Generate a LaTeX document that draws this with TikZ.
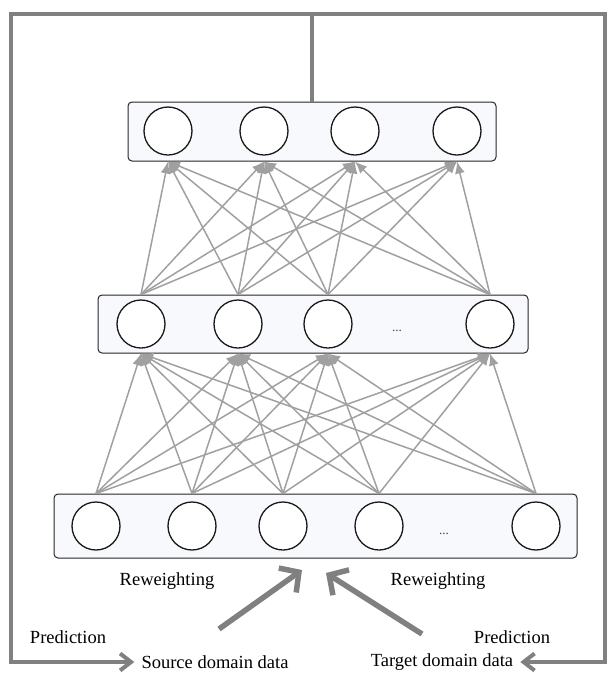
\documentclass[tikz,border=0pt]{standalone}
\usepackage{fontspec}
\setmainfont{Liberation Serif}
\usetikzlibrary{arrows.meta}
\definecolor{loopgray}{RGB}{128,128,128}
\definecolor{conngray}{RGB}{160,160,160}
\definecolor{layerfill}{RGB}{248,249,253}
\tikzset{
        % Layer boxes
        node_layer/.style={rectangle, rounded corners=4pt, draw=black!85, line width=1pt, fill=layerfill, inner sep=0pt},
        % Neurons
        node_neuron/.style={circle, draw=black!90, line width=1.3pt, fill=white, minimum size=48pt, inner sep=0pt},
        % Text labels
        node_label/.style={inner sep=1pt, font=\fontsize{18.5}{20}\selectfont},
        % Dots between neurons
        node_dots/.style={inner sep=0pt, font=\fontsize{13}{14}\selectfont, text=black!75},
        % Connections between layers
        edge_conn/.style={conngray, line width=1.5pt, -{Latex[length=12pt,width=10pt]}},
        % Prediction loop
        edge_loop/.style={loopgray, line width=4pt, -{Straight Barb[length=11pt,width=17pt]}},
        % Reweighting arrows
        edge_weight/.style={loopgray, line width=5.5pt, -{Straight Barb[length=14pt,width=30pt]}}
}

\begin{document}
\begin{tikzpicture}[x=1pt, y=-1pt]
    \useasboundingbox (0,0) rectangle (608,673);

    % layer boxes
    \node[node_layer, minimum width=368pt, minimum height=59pt] (top_box) at (312,131.5) {};
    \node[node_layer, minimum width=430pt, minimum height=58pt] (mid_box) at (313,324) {};
    \node[node_layer, minimum width=523pt, minimum height=64pt] (bot_box) at (315.5,526) {};

    % output layer
    \node[node_neuron] (t1) at (168,131) {};
    \node[node_neuron] (t2) at (264,131) {};
    \node[node_neuron] (t3) at (355,131) {};
    \node[node_neuron] (t4) at (457,131) {};

    % hidden layer
    \node[node_neuron] (m1) at (141,324) {};
    \node[node_neuron] (m2) at (238,324) {};
    \node[node_neuron] (m3) at (328,324) {};
    \node[node_dots] (m_dots) at (397,331) {...};
    \node[node_neuron] (m4) at (490,324) {};

    % input layer
    \node[node_neuron] (b1) at (96,526) {};
    \node[node_neuron] (b2) at (192,526) {};
    \node[node_neuron] (b3) at (283,526) {};
    \node[node_neuron] (b4) at (379,526) {};
    \node[node_dots] (b_dots) at (444,534) {...};
    \node[node_neuron] (b5) at (536,526) {};

    % full connections
    \foreach \i in {1,...,5}
        \foreach \j in {1,...,4}
            \draw[edge_conn] (b\i |- bot_box.north) -- (m\j |- mid_box.south);
    \foreach \i in {1,...,4}
        \foreach \j in {1,...,4}
            \draw[edge_conn] (m\i |- mid_box.north) -- (t\j |- top_box.south);

    % data and labels
    \node[node_label] (src) at (215,662) {Source domain data};
    \node[node_label] (tgt) at (442,662) {Target domain data};
    \node[node_label] (rw_left) at (167,581) {Reweighting};
    \node[node_label] (rw_right) at (438,581) {Reweighting};
    \node[node_label] (pred_left) at (68,637) {Prediction};
    \node[node_label] (pred_right) at (512,637) {Prediction};

    % prediction goes back to both domains
    \draw[edge_loop] (top_box.north) |- (11,14) |- ([xshift=-6pt]src.west);
    \draw[edge_loop] (top_box.north) |- (605,14) |- ([xshift=6pt]tgt.east);

    % reweighting
    \coordinate (src_tail) at (219,629);
    \coordinate (src_head) at (302,570);
    \coordinate (tgt_tail) at (422,634);
    \coordinate (tgt_head) at (326,573);
    \draw[edge_weight] (src_tail) -- (src_head);
    \draw[edge_weight] (tgt_tail) -- (tgt_head);
\end{tikzpicture}
\end{document}
